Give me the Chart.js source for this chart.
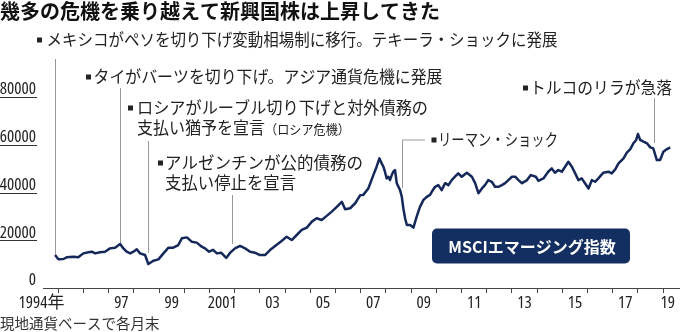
<!DOCTYPE html>
<html><head><meta charset="utf-8">
<script src="https://cdn.jsdelivr.net/npm/chart.js@4/dist/chart.umd.min.js"></script>
<style>html,body{margin:0;padding:0;background:#fff}#wrap{width:680px;height:332px;position:relative}</style>
</head><body><div id="wrap"><canvas id="c"></canvas></div>
<script>
// ---- data ----
const dates = [1994.87,1995.00,1995.20,1995.33,1995.60,1995.79,1995.99,1996.19,1996.33,1996.46,1996.65,1996.85,1997.05,1997.25,1997.45,1997.58,1997.71,1997.85,1997.98,1998.11,1998.24,1998.44,1998.57,1998.77,1998.97,1999.17,1999.37,1999.56,1999.76,1999.90,2000.10,2000.29,2000.49,2000.69,2000.82,2000.98,2001.14,2001.29,2001.46,2001.66,2001.82,2002.01,2002.21,2002.41,2002.61,2002.80,2003.00,2003.20,2003.40,2003.60,2003.86,2004.06,2004.26,2004.46,2004.66,2004.86,2005.06,2005.25,2005.45,2005.65,2005.85,2006.05,2006.25,2006.38,2006.58,2006.78,2006.98,2007.10,2007.30,2007.50,2007.63,2007.74,2007.83,2007.90,2007.96,2008.03,2008.10,2008.16,2008.23,2008.29,2008.36,2008.43,2008.56,2008.63,2008.69,2008.76,2008.83,2008.96,2009.09,2009.22,2009.35,2009.49,2009.62,2009.75,2009.82,2009.95,2010.08,2010.21,2010.35,2010.48,2010.61,2010.74,2010.87,2011.01,2011.21,2011.41,2011.54,2011.67,2011.81,2011.93,2012.06,2012.20,2012.33,2012.46,2012.60,2012.73,2012.86,2013.00,2013.13,2013.26,2013.40,2013.60,2013.75,2013.95,2014.05,2014.25,2014.44,2014.58,2014.71,2014.84,2014.98,2015.11,2015.24,2015.38,2015.51,2015.64,2015.77,2015.90,2016.04,2016.17,2016.30,2016.43,2016.63,2016.83,2016.96,2017.10,2017.23,2017.43,2017.56,2017.69,2017.82,2017.93,2018.00,2018.09,2018.22,2018.36,2018.49,2018.61,2018.75,2018.88,2019.01,2019.14,2019.28];
const msciEM = [13800,12000,12150,12850,13100,12850,14500,14950,15200,14500,14950,15200,16600,16900,18400,16600,15200,14500,15200,16200,14500,13800,10050,11400,12000,14500,16900,16900,18000,20800,21200,19400,19000,17300,16600,15200,16000,14500,14800,12600,14800,16600,17600,16600,15200,14800,13800,13800,15900,17600,19700,21500,20100,22200,24300,25300,27800,29200,28500,30200,32000,34000,36100,33000,33400,35500,38900,39000,41700,47300,50800,54300,52200,50800,48700,45900,46600,45200,47300,48700,49400,43900,41000,38200,33400,29200,26400,26400,25300,29900,34000,36900,38200,39000,40300,42400,43100,41000,43900,43100,45200,46600,48000,46600,48300,46600,43900,39700,41700,43100,45200,44500,42400,42400,43100,43900,45200,46600,46600,45200,43900,45200,47300,46600,44900,45900,48700,50100,48300,49400,48700,50800,52900,50800,48000,45200,45900,43900,41700,45200,44500,45900,48300,48700,48000,49700,52200,54300,56700,58100,60600,62000,64500,62000,61300,60600,58900,58500,53600,53600,57100,58100,58900];
const yTickValues = [0, 20000, 40000, 60000, 80000];
const xTickYears = [1995,1996,1997,1998,1999,2000,2001,2002,2003,2004,2005,2006,2007,2008,2009,2010,2011,2012,2013,2014,2015,2016,2017,2018,2019];
const xLabelValues = [1994.33,1997.5,1999.5,2001.5,2003.5,2005.5,2007.5,2009.5,2011.5,2013.5,2015.5,2017.5,2019.18];
const xLabelTexts = ['1994年','97','99','2001','03','05','07','09','11','13','15','17','19'];
const titleText = '幾多の危機を乗り越えて新興国株は上昇してきた';
const noteText = '現地通貨ベースで各月末';
const seriesName = 'MSCIエマージング指数';
const eventTexts = [
  ['メキシコがペソを切り下げ変動相場制に移行。テキーラ・ショックに発展'],
  ['タイがバーツを切り下げ。アジア通貨危機に発展'],
  ['ロシアがルーブル切り下げと対外債務の', '支払い猶予を宣言', '（ロシア危機）'],
  ['アルゼンチンが公的債務の', '支払い停止を宣言'],
  ['リーマン・ショック'],
  ['トルコのリラが急落']
];
const eventDates = [1994.87, 1997.45, 1998.56, 2001.89, 2008.64, 2018.62];
const eventValues = [13800, 18800, 14700, 18400, 41900, 60700];

// ---- layout / style (pixels) ----
const noteLayout = [
  {bx: 37, tx: 46.5, ty: 40, w: 511, top: 59},
  {bx: 86, tx: 93.5, ty: 77, w: 349, top: 88},
  {bx: 128, tx: 137, ty: 108, w: 291, top: 141, l2: {x: 137, y: 128, w: 128, pw: 85}},
  {bx: 158, tx: 165, ty: 163, w: 198, top: 195, l2: {x: 165, y: 183, w: 131}},
  {bx: 431.5, tx: 438, ty: 140, w: 120, top: 140, elbow: 425},
  {bx: 523, tx: 530, ty: 88, w: 142, top: 98}
];
const JP = '"Noto Sans CJK JP", sans-serif';
const NUM = '"Open Sans", "Noto Sans CJK JP", sans-serif';
const LINE = '#14285a';

const deco = {
  id: 'deco',
  beforeDatasetsDraw(chart) {
    const ctx = chart.ctx, xs = chart.scales.x, ys = chart.scales.y;
    ctx.save();
    ctx.strokeStyle = '#333'; ctx.lineWidth = 1;
    yTickValues.forEach(v => {
      if (v === 0) return;
      const py = Math.round(ys.getPixelForValue(v)) + 0.5;
      ctx.beginPath(); ctx.moveTo(0, py); ctx.lineTo(37, py); ctx.stroke();
    });
    ctx.strokeStyle = '#9a9a9a';
    eventDates.forEach((d, i) => {
      const L = noteLayout[i];
      const px = Math.round(xs.getPixelForValue(d)) + 0.5;
      const py = ys.getPixelForValue(eventValues[i]);
      ctx.beginPath(); ctx.moveTo(px, py); ctx.lineTo(px, L.top);
      if (L.elbow) ctx.lineTo(L.elbow, L.top);
      ctx.stroke();
    });
    ctx.restore();
  },
  afterDraw(chart) {
    const ctx = chart.ctx;
    const put = (t, x, y, w) => {
      const nat = ctx.measureText(t).width;
      if (nat > w) ctx.fillText(t, x, y, w); else ctx.fillText(t, x, y);
    };
    ctx.save();
    ctx.textBaseline = 'middle';
    ctx.fillStyle = '#222';
    eventTexts.forEach((lines, i) => {
      const L = noteLayout[i];
      ctx.fillRect(L.bx, L.ty - 2.5, 5, 5);
      ctx.font = '16.5px ' + JP;
      put(lines[0], L.tx, L.ty, L.w);
      if (lines[1]) {
        ctx.font = '16.5px ' + JP;
        put(lines[1], L.l2.x, L.l2.y, L.l2.w);
        if (lines[2]) {
          ctx.font = '13px ' + JP;
          put(lines[2], L.l2.x + L.l2.w, L.l2.y + 1, L.l2.pw);
        }
      }
    });
    // series label box
    ctx.fillStyle = '#132f61';
    ctx.beginPath(); ctx.roundRect(432, 228.5, 198, 35, 5); ctx.fill();
    ctx.fillStyle = '#fff';
    ctx.font = 'bold 16px ' + JP;
    ctx.textAlign = 'center';
    ctx.fillText(seriesName, 532, 246.5);
    ctx.restore();
  }
};

new Chart(document.getElementById('c'), {
  type: 'line',
  data: {
    datasets: [{
      label: seriesName,
      data: dates.map((d, i) => ({x: d, y: msciEM[i]})),
      borderColor: LINE, borderWidth: 2.5, pointRadius: 0, tension: 0,
      borderJoinStyle: 'round', fill: false
    }]
  },
  options: {
    responsive: true, maintainAspectRatio: false, animation: false,
    layout: {padding: 0},
    plugins: {
      legend: {display: false}, tooltip: {enabled: false},
      title: {display: true, text: titleText, align: 'start', color: '#111',
        font: {family: JP, size: 20, weight: 'bold', lineHeight: 1.1},
        padding: {top: 0, bottom: 27.25}},
      subtitle: {display: true, text: noteText, position: 'bottom', align: 'start', color: '#333',
        font: {family: JP, size: 14.5, lineHeight: 1.2},
        padding: {top: 1.3, bottom: 0.3}}
    },
    scales: {
      x: {
        type: 'linear', position: 'bottom', min: 1994.39, max: 2019.67, weight: 0,
        afterBuildTicks: s => { s.ticks = xTickYears.map(v => ({value: v})); },
        afterFit: s => { s.height = 5; s.paddingLeft = 0; s.paddingRight = 0; },
        grid: {display: true, drawOnChartArea: false, drawTicks: true, tickLength: 5, tickColor: '#444', lineWidth: 1},
        border: {display: true, color: '#444', width: 1},
        ticks: {display: false}
      },
      x2: {
        type: 'linear', position: 'bottom', min: 1994.39, max: 2019.67, weight: 1,
        afterBuildTicks: s => { s.ticks = xLabelValues.map(v => ({value: v})); },
        afterFit: s => { s.height = 20; s.paddingLeft = 0; s.paddingRight = 0; },
        grid: {display: false, drawTicks: false, tickLength: 0}, border: {display: false},
        ticks: {autoSkip: false, maxRotation: 0, padding: 0.4, color: '#222',
          font: {family: NUM, size: 17, weight: 'condensed', lineHeight: 1.13},
          callback: (v, i) => xLabelTexts[i]}
      },
      y: {
        type: 'linear', position: 'left', min: 0, max: 100000,
        afterBuildTicks: s => { s.ticks = yTickValues.map(v => ({value: v})); },
        afterFit: s => { s.width = 43; s.paddingTop = 0; s.paddingBottom = 0; },
        grid: {display: false, drawTicks: false, tickLength: 0}, border: {display: false},
        ticks: {padding: 7, labelOffset: -7.5, color: '#222',
          font: {family: NUM, size: 17, weight: 'condensed', lineHeight: 1.2},
          callback: v => String(v)}
      }
    }
  },
  plugins: [deco]
});
</script></body></html>
